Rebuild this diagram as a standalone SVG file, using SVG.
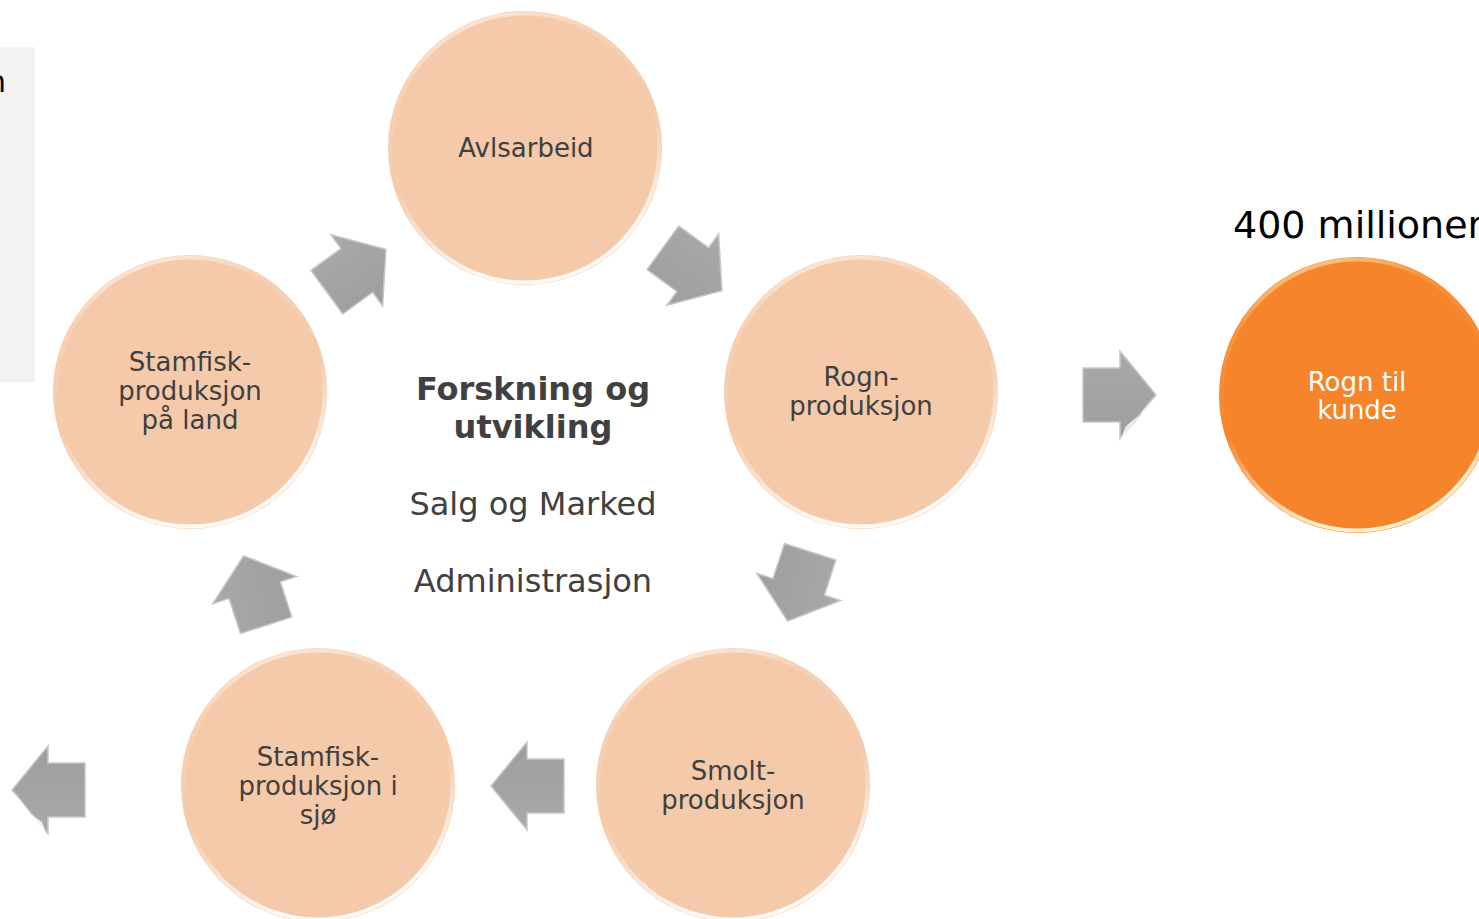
<svg xmlns="http://www.w3.org/2000/svg" width="1479" height="919" viewBox="0 0 1479 919">
<style>
  .lbl { font-family: "DejaVu Sans", Verdana, sans-serif; font-size: 26px; fill: #404040; text-anchor: middle; }
  .wlbl { font-family: "DejaVu Sans", Verdana, sans-serif; font-size: 26px; fill: #FFFFFF; text-anchor: middle; }
  .mid { font-family: "DejaVu Sans", Verdana, sans-serif; font-size: 32px; fill: #404040; text-anchor: middle; }
  .midb { font-family: "DejaVu Sans", Verdana, sans-serif; font-size: 32px; font-weight: bold; fill: #404040; text-anchor: middle; }
  .peach { fill: #F5CAAA; }
  .orange { fill: #F5842A; }
  .rimP { fill: none; stroke: url(#rimGrad); stroke-width: 4; }
  .rimO { fill: none; stroke: url(#rimGradO); stroke-width: 4; }
  .arrow { fill: url(#arrowGrad); stroke: #C4C8CE; stroke-width: 1.5; stroke-linejoin: miter; }
</style>
<defs>
  <linearGradient id="rimGrad" x1="0" y1="0" x2="0.3" y2="1">
    <stop offset="0" stop-color="#FFF2E8" stop-opacity="0.9"/>
    <stop offset="0.25" stop-color="#FFFFFF" stop-opacity="0.15"/>
    <stop offset="0.6" stop-color="#FFFFFF" stop-opacity="0"/>
    <stop offset="1" stop-color="#FFFFFF" stop-opacity="0.9"/>
  </linearGradient>
  <linearGradient id="rimGradO" x1="0" y1="0" x2="0.3" y2="1">
    <stop offset="0" stop-color="#FFE9A8" stop-opacity="0.9"/>
    <stop offset="0.25" stop-color="#FFF1C0" stop-opacity="0.15"/>
    <stop offset="0.6" stop-color="#FFFFFF" stop-opacity="0"/>
    <stop offset="1" stop-color="#FFF6D0" stop-opacity="0.95"/>
  </linearGradient>
  <linearGradient id="arrowGrad" x1="0" y1="0" x2="0" y2="1">
    <stop offset="0" stop-color="#A9A9A9"/>
    <stop offset="1" stop-color="#9E9E9E"/>
  </linearGradient>
  <polygon id="arr" class="arrow" points="-36,-27 1,-27 1,-44 37,0 1,44 1,27 -36,27"/>
</defs>

<rect x="0" y="0" width="1479" height="919" fill="#FFFFFF"/>

<g id="side-panel">
  <rect x="0" y="47" width="35" height="335" fill="#F2F2F2"/>
  <text x="-13" y="92" font-family="'DejaVu Sans', Verdana, sans-serif" font-size="30" fill="#000000">n</text>
</g>

<g id="connectors">
  <use href="#arr" transform="translate(692,269) rotate(36)"/>
  <use href="#arr" transform="translate(799,586) rotate(108)"/>
  <use href="#arr" transform="translate(528,786) rotate(180)"/>
  <use href="#arr" transform="translate(255,591) rotate(252)"/>
  <use href="#arr" transform="translate(356,271) rotate(-36)"/>
  <use href="#arr" transform="translate(1119,395)"/>
  <polygon points="1120,440 1155,395 1143,412 1126,426" fill="#FFFFFF" opacity="0.8"/>
  <use href="#arr" transform="translate(49,790) rotate(180)"/>
  <polygon points="47,836 13,790 25,810 42,822" fill="#FFFFFF" opacity="0.8"/>
</g>

<g id="node-avlsarbeid">
  <circle class="peach" cx="525" cy="148" r="137"/>
  <circle class="rimP" cx="525" cy="148" r="134.5"/>
  <text class="lbl" x="526" y="157">Avlsarbeid</text>
</g>

<g id="node-rogn">
  <circle class="peach" cx="861" cy="392" r="137"/>
  <circle class="rimP" cx="861" cy="392" r="134.5"/>
  <text class="lbl" x="861" y="386">Rogn-</text>
  <text class="lbl" x="861" y="415">produksjon</text>
</g>

<g id="node-smolt">
  <circle class="peach" cx="733" cy="785" r="137"/>
  <circle class="rimP" cx="733" cy="785" r="134.5"/>
  <text class="lbl" x="733" y="780">Smolt-</text>
  <text class="lbl" x="733" y="809">produksjon</text>
</g>

<g id="node-stamfisk-sjo">
  <circle class="peach" cx="318" cy="785" r="137"/>
  <circle class="rimP" cx="318" cy="785" r="134.5"/>
  <text class="lbl" x="318" y="766">Stamfisk-</text>
  <text class="lbl" x="318" y="795">produksjon i</text>
  <text class="lbl" x="318" y="824">sjø</text>
</g>

<g id="node-stamfisk-land">
  <circle class="peach" cx="190" cy="392" r="137"/>
  <circle class="rimP" cx="190" cy="392" r="134.5"/>
  <text class="lbl" x="190" y="371">Stamfisk-</text>
  <text class="lbl" x="190" y="400">produksjon</text>
  <text class="lbl" x="190" y="429">på land</text>
</g>

<g id="node-center">
  <text class="midb" x="533" y="400">Forskning og</text>
  <text class="midb" x="533" y="438">utvikling</text>
  <text class="mid" x="533" y="515">Salg og Marked</text>
  <text class="mid" x="533" y="592">Administrasjon</text>
</g>

<g id="node-rogn-til-kunde">
  <text x="1233" y="238" font-family="'DejaVu Sans', Verdana, sans-serif" font-size="38" fill="#000000">400 millioner</text>
  <circle class="orange" cx="1357" cy="395" r="138"/>
  <circle class="rimO" cx="1357" cy="395" r="135.5"/>
  <text class="wlbl" x="1357" y="391">Rogn til</text>
  <text class="wlbl" x="1357" y="419">kunde</text>
</g>
</svg>
